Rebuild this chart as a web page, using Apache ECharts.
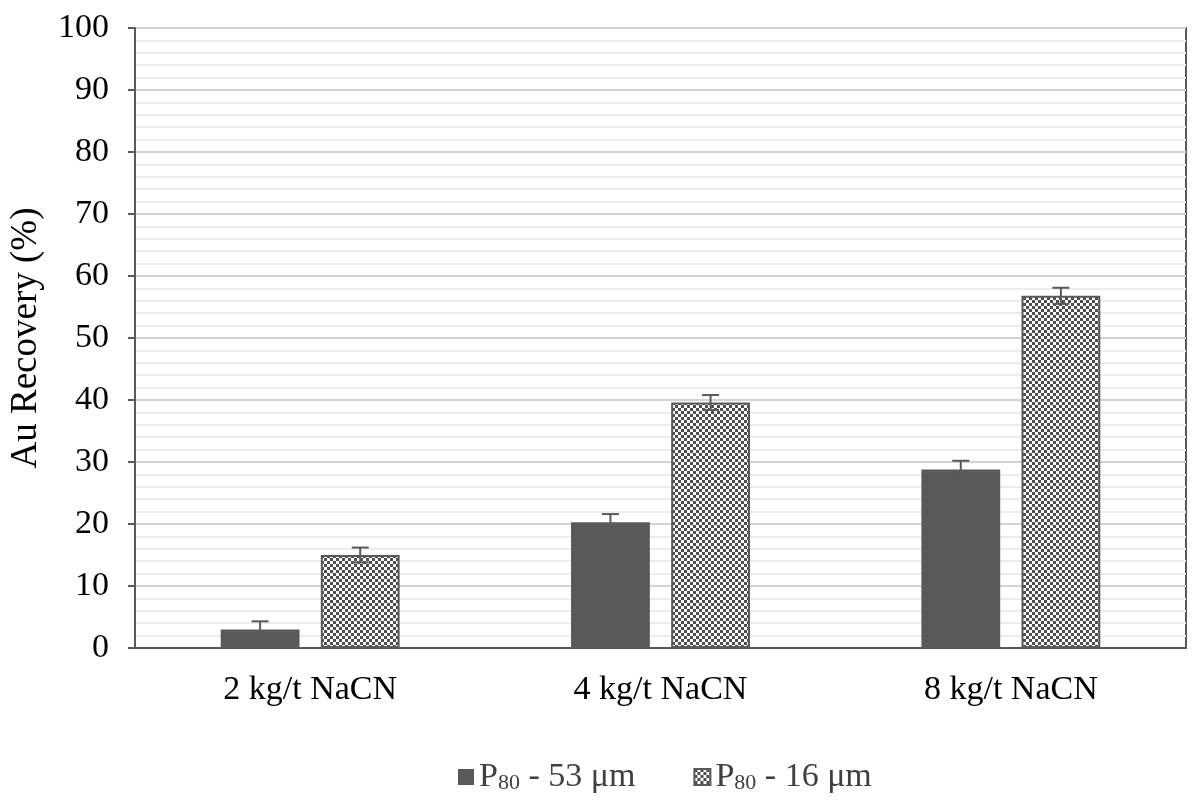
<!DOCTYPE html>
<html>
<head>
<meta charset="utf-8">
<script src="https://cdn.jsdelivr.net/npm/echarts@6/dist/echarts.min.js"></script>
<style>
html,body{margin:0;padding:0;background:#fff;}
#chart{width:1196px;height:809px;}
</style>
</head>
<body>
<div id="chart"></div>
<script>
const categories = ['2 kg/t NaCN', '4 kg/t NaCN', '8 kg/t NaCN'];
const seriesNames = ['P80 - 53 μm', 'P80 - 16 μm'];
const coarseValues = [3.0, 20.3, 28.8];
const coarseErrors = [1.3, 1.3, 1.4];
const fineValues = [15.0, 39.6, 56.8];
const fineErrors = [1.2, 1.2, 1.3];
const yTicks = [0, 10, 20, 30, 40, 50, 60, 70, 80, 90, 100];

const DARK = '#595959';
const font = '"Liberation Serif", "Times New Roman", serif';

function checker() {
  const c = document.createElement('canvas');
  const s = 3;
  c.width = s * 2; c.height = s * 2;
  const g = c.getContext('2d');
  g.fillStyle = '#ffffff';
  g.fillRect(0, 0, s * 2, s * 2);
  g.fillStyle = '#4d4d4d';
  g.fillRect(0, 0, s, s);
  g.fillRect(s, s, s, s);
  return c;
}
const pattern = { image: checker(), repeat: 'repeat' };

const chart = echarts.init(document.getElementById('chart'));

function errorSeries(values, errors, barIndex) {
  const data = values.map((v, i) => [i, v - errors[i], v + errors[i]]);
  return {
    type: 'custom',
    name: 'err' + barIndex,
    z: 10,
    silent: true,
    data: data,
    encode: { x: 0, y: [1, 2] },
    renderItem: function (params, api) {
      const idx = api.value(0);
      const lo = api.coord([idx, api.value(1)]);
      const hi = api.coord([idx, api.value(2)]);
      const bandW = api.size([1, 0])[0];
      const barW = bandW * 0.225;
      const gap = barW * 0.27;
      const offset = (barIndex === 0 ? -1 : 1) * (barW + gap) / 2;
      const x = lo[0] + offset;
      const cap = 8.5;
      const style = { stroke: DARK, lineWidth: 2 };
      return {
        type: 'group',
        children: [
          { type: 'line', shape: { x1: x, y1: lo[1], x2: x, y2: hi[1] }, style: style },
          { type: 'line', shape: { x1: x - cap, y1: hi[1], x2: x + cap, y2: hi[1] }, style: style },
          { type: 'line', shape: { x1: x - cap, y1: lo[1], x2: x + cap, y2: lo[1] }, style: style }
        ]
      };
    }
  };
}

const option = {
  backgroundColor: '#ffffff',
  animation: false,
  grid: { left: 135, right: 10, top: 28, bottom: 161, containLabel: false, show: true, borderColor: DARK, borderWidth: 2 },
  legend: {
    data: seriesNames,
    bottom: 10,
    left: 453,
    itemWidth: 16,
    itemHeight: 16,
    itemGap: 58,
    icon: 'rect',
    textStyle: {
      fontFamily: font, fontSize: 34, color: '#404040',
      rich: {
        a: { fontFamily: font, fontSize: 34, color: '#404040' },
        s: { fontFamily: font, fontSize: 22, color: '#404040', padding: [12, 0, 0, 0] }
      }
    },
    formatter: function (name) {
      const rest = name.replace('P80', '');
      return '{a|P}{s|80}{a|' + rest + '}';
    }
  },
  xAxis: {
    type: 'category',
    data: categories,
    axisLine: { show: true, lineStyle: { color: DARK, width: 2 } },
    axisTick: { show: false },
    axisLabel: { fontFamily: font, fontSize: 34, color: '#000', margin: 25 },
    splitLine: { show: false }
  },
  yAxis: {
    type: 'value',
    min: 0, max: 100, interval: 10,
    name: 'Au Recovery (%)',
    nameLocation: 'middle',
    nameGap: 90,
    nameTextStyle: { fontFamily: font, fontSize: 37, color: '#000' },
    axisLine: { show: true, lineStyle: { color: DARK, width: 2 } },
    axisTick: { show: true, length: 7, lineStyle: { color: DARK, width: 2 } },
    axisLabel: {
      fontFamily: font, fontSize: 34, color: '#000', margin: 26,
      formatter: function (v) { return yTicks.indexOf(v) >= 0 ? String(v) : ''; }
    },
    splitLine: { show: true, lineStyle: { color: '#d4d4d4', width: 2 } },
    minorTick: { show: false, splitNumber: 5 },
    minorSplitLine: { show: true, lineStyle: { color: '#ececec', width: 2 } }
  },
  series: [
    {
      type: 'bar',
      name: seriesNames[0],
      data: coarseValues,
      barWidth: '22.5%',
      barGap: '27%',
      itemStyle: { color: DARK }
    },
    {
      type: 'bar',
      name: seriesNames[1],
      data: fineValues,
      barWidth: '22.5%',
      barGap: '27%',
      itemStyle: { color: pattern, borderColor: DARK, borderWidth: 2 }
    },
    errorSeries(coarseValues, coarseErrors, 0),
    errorSeries(fineValues, fineErrors, 1)
  ]
};
chart.setOption(option);
</script>
</body>
</html>
